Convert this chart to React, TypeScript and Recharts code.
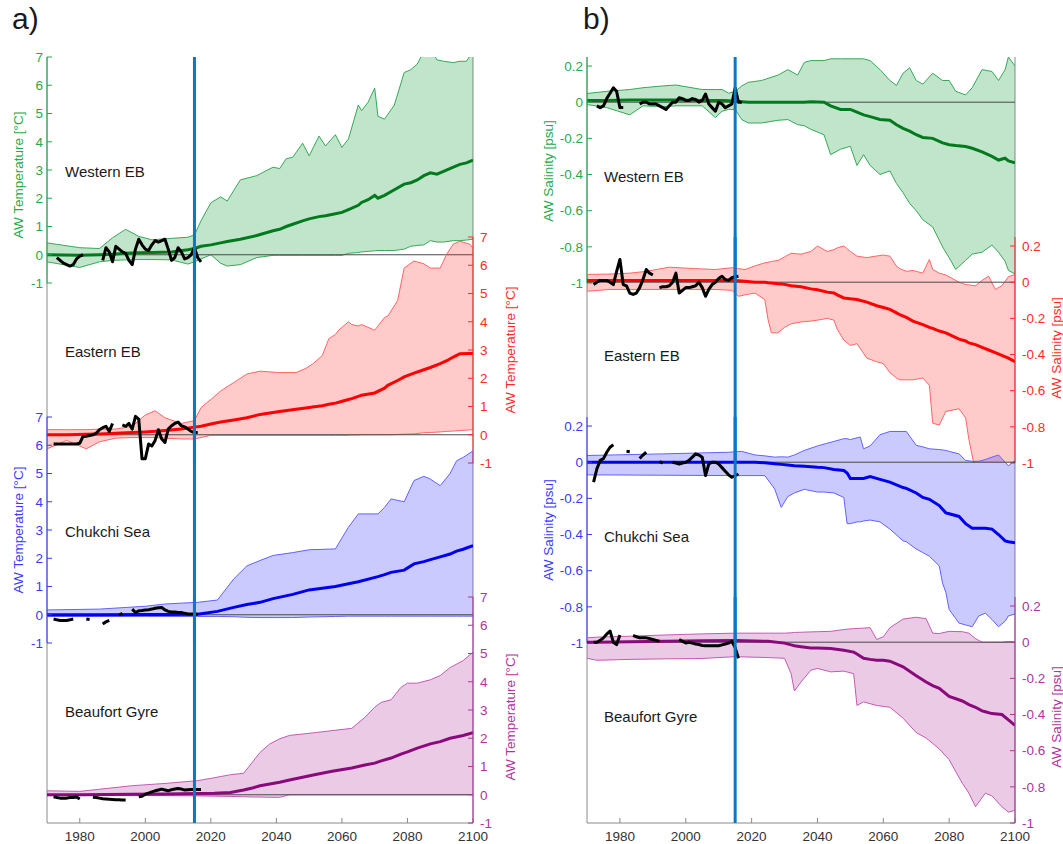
import React from "react";
import { Area, ComposedChart, Line, ReferenceLine, XAxis, YAxis } from "recharts";

const FONT = '"Liberation Sans", Arial, Helvetica, sans-serif';

const YEAR_TICKS = [1980, 2000, 2020, 2040, 2060, 2080, 2100];
const TOP_TICKS = [1980, 2000, 2020, 2040, 2060, 2080];
const TEMP_TICKS = [-1, 0, 1, 2, 3, 4, 5, 6, 7];
const SAL_TICKS = [-1, -0.8, -0.6, -0.4, -0.2, 0, 0.2];
const SCENARIO_START = 2015;
const REGIONS = ["Western EB", "Eastern EB", "Chukchi Sea", "Beaufort Gyre"];

// ---------- a) AW temperature ----------
// Western EB
const aWebYears = [1970, 1980, 1986, 1990, 1994, 1998, 2002, 2008, 2013, 2015, 2017, 2020, 2023, 2025, 2029, 2034, 2039, 2041, 2043, 2045, 2048, 2050, 2053, 2055, 2058, 2060, 2062, 2065, 2066, 2068, 2070, 2071, 2073, 2076, 2079, 2081, 2083, 2085, 2087, 2089, 2091, 2094, 2096, 2098, 2100];
const aWebHi = [0.42, 0.25, 0.22, 0.6, 0.9, 0.65, 0.53, 0.58, 0.62, 0.7, 1.2, 1.84, 2.05, 1.9, 2.65, 2.8, 3.1, 3.05, 3.4, 3.45, 3.95, 3.5, 4.2, 3.85, 4.25, 3.8, 4.1, 5.3, 5.1, 5.4, 5.9, 4.9, 4.8, 5.3, 6.45, 6.55, 6.75, 7.2, 7.3, 6.9, 6.85, 6.8, 6.85, 6.85, 7.2];
const aWebLo = [-0.25, -0.45, -0.25, -0.2, -0.18, -0.17, -0.17, -0.18, -0.33, -0.25, -0.15, 0, -0.3, -0.4, -0.35, -0.1, -0.02, -0.02, -0.02, -0.02, -0.02, -0.02, -0.02, -0.02, -0.02, -0.02, 0.05, 0.08, 0.1, 0.12, 0.14, 0.15, 0.15, 0.15, 0.2, 0.3, 0.33, 0.35, 0.5, 0.45, 0.45, 0.5, 0.5, 0.52, 0.55];
const aWebMean = [0, -0.02, 0, 0.02, 0.05, 0.07, 0.08, 0.1, 0.18, 0.22, 0.3, 0.35, 0.42, 0.47, 0.55, 0.68, 0.85, 0.9, 1.0, 1.08, 1.2, 1.27, 1.35, 1.38, 1.45, 1.5, 1.6, 1.75, 1.85, 1.95, 2.1, 2.0, 2.1, 2.3, 2.5, 2.55, 2.65, 2.8, 2.9, 2.85, 2.95, 3.1, 3.2, 3.25, 3.35];
const aWebObsStart = 1973;
const aWebObs = [-0.1, -0.2, -0.3, -0.35, -0.4, -0.35, -0.15, -0.05, 0, null, null, null, null, null, -0.2, 0.25, 0.1, -0.25, 0.3, 0.2, 0.1, 0.05, -0.2, -0.35, 0.2, 0.55, 0.35, 0.2, 0.15, 0.35, 0.5, 0.45, 0.5, 0.55, 0.2, -0.2, -0.1, 0.25, 0.1, -0.15, -0.1, 0, 0.25, -0.1, -0.25];

// Eastern EB
const aEebYears = [1970, 1976, 1982, 1986, 1991, 1996, 2000, 2003, 2006, 2011, 2015, 2017, 2020, 2023, 2027, 2031, 2035, 2041, 2046, 2049, 2051, 2054, 2056, 2058, 2059, 2062, 2063, 2065, 2066, 2070, 2073, 2074, 2077, 2079, 2082, 2085, 2087, 2090, 2092, 2094, 2096, 2099, 2100];
const aEebHi = [0.18, 0.18, 0.18, 0.2, 0.2, 0.3, 0.7, 0.85, 0.6, 0.4, 0.5, 0.96, 1.25, 1.55, 1.85, 2.15, 2.25, 2.2, 2.2, 2.35, 2.5, 2.8, 3.4, 3.55, 3.7, 4.0, 3.9, 3.85, 3.9, 3.7, 4.15, 4.2, 4.75, 5.9, 6.15, 6.05, 5.9, 5.9, 6.4, 6.75, 6.85, 6.75, 6.6];
const aEebLo = [-0.5, -0.2, -0.5, -0.25, -0.12, -0.1, -0.1, -0.1, -0.12, -0.15, -0.15, -0.1, -0.02, -0.02, -0.02, -0.02, -0.02, -0.02, -0.02, -0.02, -0.02, -0.02, -0.02, -0.02, -0.02, -0.02, -0.01, -0.01, 0, 0, 0, 0, 0.01, 0.02, 0.03, 0.07, 0.08, 0.1, 0.12, 0.13, 0.15, 0.17, 0.18];
const aEebMean = [0, 0, 0.02, 0.03, 0.05, 0.08, 0.1, 0.12, 0.15, 0.2, 0.27, 0.3, 0.38, 0.45, 0.52, 0.6, 0.72, 0.82, 0.9, 0.95, 0.98, 1.03, 1.08, 1.12, 1.15, 1.25, 1.28, 1.36, 1.4, 1.48, 1.65, 1.75, 1.92, 2.05, 2.18, 2.3, 2.38, 2.52, 2.62, 2.75, 2.87, 2.88, 2.88];
const aEebObsStart = 1972;
const aEebObs = [-0.33, -0.33, -0.33, -0.33, -0.33, -0.33, -0.33, -0.33, -0.3, -0.06, -0.05, -0.03, 0, 0.05, 0.18, 0.25, 0.3, 0.12, 0.4, null, null, 0.35, 0.3, 0.4, 0.2, 0.65, 0.55, -0.85, -0.85, -0.33, -0.4, -0.2, 0.18, -0.15, -0.27, 0.2, 0.32, 0.4, 0.45, 0.32, 0.28, 0.2, 0.12, 0.08, 0.08];

// Chukchi Sea
const aCsYears = [1970, 1986, 2000, 2006, 2016, 2022, 2027, 2031, 2035, 2039, 2045, 2050, 2058, 2062, 2065, 2071, 2073, 2075, 2079, 2082, 2085, 2087, 2090, 2093, 2095, 2097, 2100];
const aCsHi = [0.17, 0.2, 0.3, 0.38, 0.44, 0.52, 1.27, 1.73, 1.92, 2.1, 2.2, 2.3, 2.33, 3.1, 3.57, 3.57, 3.8, 4.1, 4.0, 4.75, 4.9, 4.8, 4.57, 5.0, 5.45, 5.57, 5.8];
const aCsLo = [-0.06, -0.06, -0.06, -0.06, -0.06, -0.06, -0.07, -0.09, -0.1, -0.1, -0.1, -0.08, -0.06, -0.05, -0.05, -0.05, -0.05, -0.05, -0.05, -0.05, -0.05, -0.05, -0.05, -0.05, -0.05, -0.05, -0.05];
const aCsMean = [0, 0, 0.01, 0.01, 0.02, 0.12, 0.26, 0.36, 0.44, 0.57, 0.72, 0.88, 1.0, 1.1, 1.17, 1.35, 1.42, 1.5, 1.58, 1.8, 1.88, 1.95, 2.05, 2.15, 2.25, 2.32, 2.45];
const aCsObsStart = 1972;
const aCsObs = [-0.15, -0.18, -0.2, -0.2, -0.2, -0.18, -0.15, null, null, null, -0.15, -0.17, null, null, null, -0.33, -0.25, -0.2, null, null, -0.02, 0.05, null, null, 0.2, 0.08, 0.14, 0.15, 0.17, 0.18, 0.2, 0.23, 0.25, 0.26, 0.17, 0.12, 0.1, 0.1, 0.08, 0.08, 0.05, 0.03, 0.03, 0.03, 0.03];

// Beaufort Gyre
const aBgYears = [1970, 1980, 1996, 2006, 2016, 2021, 2026, 2030, 2033, 2035, 2038, 2041, 2044, 2052, 2057, 2063, 2067, 2070, 2072, 2075, 2078, 2080, 2083, 2087, 2090, 2093, 2097, 2100];
const aBgHi = [0.14, 0.12, 0.32, 0.4, 0.5, 0.6, 0.71, 0.76, 1.2, 1.5, 1.8, 1.98, 2.1, 2.2, 2.27, 2.35, 2.74, 3.1, 3.27, 3.36, 3.8, 3.95, 3.95, 4.07, 4.22, 4.5, 4.75, 5.05];
const aBgLo = [-0.03, -0.03, -0.03, -0.03, -0.04, -0.05, -0.06, -0.07, -0.08, -0.08, -0.09, -0.09, 0, 0, 0, 0, 0, 0, 0, 0, 0, 0, 0, 0, 0, 0, 0, 0];
const aBgMean = [0, 0, 0.02, 0.03, 0.04, 0.05, 0.08, 0.17, 0.25, 0.32, 0.38, 0.44, 0.52, 0.72, 0.83, 0.95, 1.05, 1.12, 1.2, 1.3, 1.44, 1.52, 1.65, 1.8, 1.88, 2.0, 2.1, 2.2];
const aBgObsStart = 1972;
const aBgObs = [-0.07, -0.1, -0.12, -0.12, -0.12, -0.1, -0.1, -0.08, -0.15, null, null, null, -0.09, -0.1, -0.12, -0.14, -0.15, -0.16, -0.17, -0.18, -0.18, -0.19, -0.19, null, null, null, -0.07, -0.05, 0.02, 0.06, 0.1, 0.14, 0.17, 0.2, 0.17, 0.14, 0.18, 0.2, 0.22, 0.2, 0.17, 0.18, 0.19, 0.19, 0.19, 0.19];

// ---------- b) AW salinity ----------
// Western EB
const bWebYears = [1970, 1976, 1983, 1987, 1993, 1997, 2005, 2009, 2011, 2013, 2015, 2017, 2019, 2023, 2028, 2031, 2034, 2036, 2038, 2042, 2044, 2047, 2050, 2052, 2054, 2056, 2059, 2062, 2064, 2066, 2068, 2070, 2072, 2075, 2078, 2080, 2082, 2085, 2087, 2090, 2093, 2095, 2097, 2098, 2100];
const bWebHi = [0.048, 0.06, 0.07, 0.08, 0.09, 0.095, 0.07, 0.07, 0.07, 0.05, 0.06, 0.09, 0.11, 0.12, 0.15, 0.18, 0.15, 0.22, 0.23, 0.23, 0.24, 0.24, 0.24, 0.24, 0.24, 0.23, 0.18, 0.12, 0.093, 0.16, 0.19, 0.12, 0.1, 0.16, 0.12, 0.12, 0.06, 0.04, 0.08, 0.18, 0.17, 0.12, 0.18, 0.25, 0.2];
const bWebLo = [-0.013, -0.03, -0.07, -0.02, -0.025, -0.02, -0.02, -0.085, -0.05, -0.04, -0.04, -0.096, -0.115, -0.115, -0.1, -0.096, -0.124, -0.13, -0.15, -0.18, -0.29, -0.26, -0.244, -0.35, -0.29, -0.35, -0.4, -0.38, -0.45, -0.5, -0.56, -0.6, -0.65, -0.69, -0.8, -0.86, -0.925, -0.875, -0.84, -0.83, -0.79, -0.83, -0.88, -0.93, -0.95];
const bWebMean = [0.01, 0.01, 0.012, 0.012, 0.012, 0.012, 0.01, 0.01, 0.01, 0.008, 0.005, 0.003, 0, 0, 0, 0, 0, 0, 0.003, 0, -0.02, -0.04, -0.04, -0.055, -0.07, -0.08, -0.096, -0.1, -0.125, -0.145, -0.16, -0.18, -0.195, -0.2, -0.225, -0.235, -0.24, -0.245, -0.255, -0.275, -0.3, -0.32, -0.31, -0.325, -0.335];
const bWebObsStart = 1973;
const bWebObs = [-0.02, -0.03, -0.02, 0.02, 0.05, 0.08, 0.06, -0.03, -0.03, null, null, null, null, -0.01, 0, 0, -0.01, -0.01, -0.01, -0.02, -0.03, -0.04, -0.02, 0, 0, 0.025, 0.02, 0.01, 0.01, 0.02, 0.015, 0, 0.01, 0.045, -0.01, -0.03, -0.05, 0, -0.01, -0.03, -0.02, -0.01, 0.08, 0, 0];

// Eastern EB
const bEebYears = [1970, 1977, 1983, 1988, 1995, 2003, 2009, 2014, 2016, 2018, 2021, 2024, 2025, 2026, 2028, 2030, 2032, 2035, 2038, 2040, 2043, 2045, 2046, 2048, 2050, 2052, 2055, 2058, 2060, 2062, 2064, 2065, 2067, 2069, 2072, 2074, 2075, 2077, 2079, 2083, 2085, 2086, 2088, 2090, 2092, 2094, 2096, 2098, 2100];
const bEebHi = [0.043, 0.045, 0.05, 0.06, 0.083, 0.075, 0.07, 0.08, 0.075, 0.07, 0.09, 0.107, 0.11, 0.115, 0.12, 0.14, 0.16, 0.155, 0.17, 0.2, 0.17, 0.18, 0.19, 0.2, 0.17, 0.144, 0.136, 0.145, 0.15, 0.144, 0.089, 0.075, 0.06, 0.065, 0.05, 0.126, 0.07, 0.05, 0.04, 0.0, -0.013, -0.015, -0.02, 0.01, 0.033, -0.04, -0.02, 0.03, 0.043];
const bEebLo = [-0.05, -0.04, -0.04, -0.04, -0.04, -0.04, -0.04, -0.045, -0.078, -0.07, -0.06, -0.096, -0.207, -0.28, -0.28, -0.25, -0.23, -0.22, -0.215, -0.21, -0.2, -0.21, -0.26, -0.32, -0.35, -0.34, -0.42, -0.44, -0.45, -0.5, -0.53, -0.54, -0.54, -0.54, -0.53, -0.57, -0.78, -0.79, -0.715, -0.7, -0.75, -0.87, -1.05, -1.05, -1.05, -1.05, -1.05, -1.05, -1.05];
const bEebMean = [0.01, 0.01, 0.01, 0.01, 0.01, 0.01, 0.01, 0.01, 0.008, 0.005, 0, 0, -0.003, -0.005, -0.008, -0.012, -0.02, -0.025, -0.037, -0.042, -0.055, -0.06, -0.07, -0.087, -0.092, -0.096, -0.11, -0.13, -0.14, -0.15, -0.17, -0.18, -0.195, -0.215, -0.235, -0.25, -0.255, -0.27, -0.28, -0.315, -0.325, -0.336, -0.345, -0.36, -0.375, -0.39, -0.405, -0.42, -0.44];
const bEebObsStart = 1972;
const bEebObs = [-0.013, 0, 0.01, 0.01, 0.01, 0, -0.013, 0.06, 0.126, -0.013, -0.02, -0.06, -0.068, -0.06, -0.03, 0.015, 0.07, 0.05, 0.04, null, -0.03, -0.025, -0.025, -0.02, 0, 0.05, -0.06, -0.045, -0.03, -0.03, -0.025, -0.02, 0, -0.03, -0.078, -0.04, -0.013, 0, 0.02, 0.033, 0.015, 0.01, 0.025, 0.03, 0.033];

// Chukchi Sea
const bCsYears = [1970, 1993, 2013, 2017, 2021, 2024, 2027, 2029, 2031, 2033, 2036, 2040, 2042, 2045, 2048, 2049, 2050, 2052, 2053, 2054, 2056, 2059, 2062, 2066, 2067, 2070, 2072, 2074, 2077, 2078, 2079, 2080, 2083, 2085, 2087, 2089, 2091, 2093, 2095, 2097, 2098, 2100];
const bCsHi = [0.037, 0.046, 0.055, 0.06, 0.04, 0.035, 0.028, 0.03, 0.028, 0.04, 0.065, 0.09, 0.1, 0.115, 0.13, 0.13, 0.125, 0.135, 0.139, 0.074, 0.09, 0.152, 0.17, 0.17, 0.17, 0.093, 0.085, 0.074, 0.07, 0.068, 0.065, 0.06, 0.046, 0.01, 0.005, 0.005, 0.015, 0.028, 0.04, 0.0, -0.02, 0.01];
const bCsLo = [-0.07, -0.072, -0.074, -0.074, -0.074, -0.074, -0.148, -0.25, -0.19, -0.17, -0.15, -0.165, -0.165, -0.17, -0.195, -0.34, -0.34, -0.33, -0.33, -0.325, -0.32, -0.33, -0.37, -0.435, -0.44, -0.48, -0.5, -0.52, -0.574, -0.67, -0.72, -0.815, -0.89, -0.9, -0.91, -0.85, -0.835, -0.87, -0.91, -0.88, -0.85, -0.84];
const bCsMean = [0, 0, 0, 0, 0, -0.003, -0.008, -0.012, -0.016, -0.02, -0.022, -0.028, -0.03, -0.04, -0.046, -0.06, -0.09, -0.09, -0.09, -0.09, -0.08, -0.095, -0.11, -0.14, -0.145, -0.17, -0.195, -0.205, -0.24, -0.26, -0.28, -0.285, -0.3, -0.34, -0.365, -0.365, -0.365, -0.37, -0.4, -0.435, -0.44, -0.445];
const bCsObsStart = 1972;
const bCsObs = [-0.11, -0.037, 0.01, 0.02, 0.055, 0.083, 0.096, null, null, null, 0.06, 0.058, null, null, 0.02, 0.04, 0.055, null, null, null, 0.004, -0.005, null, null, 0, -0.005, -0.01, -0.005, 0, 0.01, 0.028, 0.046, 0.04, 0.028, -0.074, -0.01, 0, 0, -0.01, -0.03, -0.05, -0.07, -0.083, -0.075, -0.065];

// Beaufort Gyre
const bBgYears = [1970, 1973, 1983, 1994, 2005, 2015, 2025, 2030, 2032, 2033, 2035, 2038, 2040, 2044, 2048, 2051, 2052, 2054, 2056, 2058, 2060, 2062, 2066, 2070, 2073, 2075, 2077, 2080, 2084, 2086, 2088, 2090, 2091, 2093, 2096, 2098, 2100];
const bBgHi = [0.024, 0.028, 0.033, 0.04, 0.046, 0.05, 0.05, 0.05, 0.052, 0.054, 0.055, 0.057, 0.058, 0.06, 0.07, 0.075, 0.076, 0.078, 0.08, 0.015, 0.03, 0.08, 0.128, 0.138, 0.13, 0.05, 0.048, 0.06, 0.058, 0.05, 0.02, 0, 0, 0, 0, 0.004, 0];
const bBgLo = [-0.089, -0.1, -0.095, -0.092, -0.09, -0.08, -0.085, -0.089, -0.174, -0.27, -0.22, -0.155, -0.145, -0.164, -0.16, -0.174, -0.35, -0.33, -0.34, -0.35, -0.355, -0.36, -0.42, -0.5, -0.53, -0.56, -0.59, -0.65, -0.78, -0.835, -0.91, -0.86, -0.835, -0.85, -0.91, -0.94, -0.93];
const bBgMean = [0, 0, 0.003, 0.005, 0.008, 0.01, 0.005, -0.005, -0.015, -0.02, -0.025, -0.032, -0.032, -0.035, -0.045, -0.055, -0.065, -0.089, -0.095, -0.1, -0.1, -0.105, -0.136, -0.185, -0.22, -0.24, -0.255, -0.3, -0.325, -0.345, -0.36, -0.38, -0.385, -0.395, -0.4, -0.43, -0.46];
const bBgObsStart = 1972;
const bBgObs = [0, 0, 0.01, 0.024, 0.045, 0.062, 0, -0.013, 0.04, null, null, null, 0.038, 0.03, 0.025, 0.024, 0.024, 0.02, 0.015, 0.01, 0.005, null, null, null, null, null, 0.015, 0.005, -0.004, 0, -0.005, -0.01, -0.013, -0.018, -0.02, -0.02, -0.02, -0.02, -0.02, -0.015, -0.01, -0.005, 0.005, -0.03, -0.089];

// ---------- layout / style ----------
const PLOT_TOP = 57;
const PLOT_H = 766;
const BAND = 226;
const PAD = 10;
const BAND_TOPS = [57, 237, 417, 597];

const PANEL_A = { left: 0, width: 530, L: 47, R: 57 };
const PANEL_B = { left: 530, width: 533, L: 57, R: 48 };

const GREEN = { axis: "#26a94a", edge: "#35a955", fill: "#19a040", fillOpacity: 0.27, mean: "#007a1c" };
const RED = { axis: "#ff2a2a", edge: "#ff6565", fill: "#ff1a1a", fillOpacity: 0.23, mean: "#ff0000" };
const BLUE = { axis: "#3a3aff", edge: "#6262ff", fill: "#1a1aff", fillOpacity: 0.23, mean: "#0000f0" };
const PURPLE = { axis: "#b0339e", edge: "#c45ab6", fill: "#b02a9c", fillOpacity: 0.25, mean: "#8a0a7c" };
const COLORS = [GREEN, RED, BLUE, PURPLE];
const SIDES = ["left", "right", "left", "right"];

const bandRows = (years, lo, hi, mean) => years.map((year, i) => ({ year, band: [lo[i], hi[i]], mean: mean[i] }));
const obsRows = (start, vals) => vals.map((v, i) => ({ year: start + i, v }));

const TEMP = [
  { rows: bandRows(aWebYears, aWebLo, aWebHi, aWebMean), obs: obsRows(aWebObsStart, aWebObs) },
  { rows: bandRows(aEebYears, aEebLo, aEebHi, aEebMean), obs: obsRows(aEebObsStart, aEebObs) },
  { rows: bandRows(aCsYears, aCsLo, aCsHi, aCsMean), obs: obsRows(aCsObsStart, aCsObs) },
  { rows: bandRows(aBgYears, aBgLo, aBgHi, aBgMean), obs: obsRows(aBgObsStart, aBgObs) },
];
const SAL = [
  { rows: bandRows(bWebYears, bWebLo, bWebHi, bWebMean), obs: obsRows(bWebObsStart, bWebObs) },
  { rows: bandRows(bEebYears, bEebLo, bEebHi, bEebMean), obs: obsRows(bEebObsStart, bEebObs) },
  { rows: bandRows(bCsYears, bCsLo, bCsHi, bCsMean), obs: obsRows(bCsObsStart, bCsObs) },
  { rows: bandRows(bBgYears, bBgLo, bBgHi, bBgMean), obs: obsRows(bBgObsStart, bBgObs) },
];

function Frame({ panel, rows }) {
  return (
    <div style={{ position: "absolute", left: panel.left, top: PLOT_TOP - PAD }}>
      <ComposedChart width={panel.width} height={PAD + PLOT_H + 30} data={rows} margin={{ top: PAD, left: 0, right: 0, bottom: 0 }}>
        <XAxis xAxisId="b" dataKey="year" type="number" domain={[1970, 2100]} ticks={YEAR_TICKS} interval={0}
          allowDataOverflow height={30} stroke="#8a8a8a" tick={{ fill: "#333", fontSize: 13.5 }} tickSize={-5} tickMargin={13} />
        <XAxis xAxisId="t" orientation="top" dataKey="year" type="number" domain={[1970, 2100]} ticks={TOP_TICKS}
          interval={0} allowDataOverflow height={0} tick={false} stroke="#8a8a8a" tickSize={-5} />
        <YAxis yAxisId="l" width={panel.L} domain={[0, 1]} tick={false} tickLine={false} stroke="#8a8a8a" />
        <YAxis yAxisId="r" orientation="right" width={panel.R} domain={[0, 1]} tick={false} tickLine={false} stroke="#8a8a8a" />
      </ComposedChart>
    </div>
  );
}

function Sub({ panel, idx, series, domain, ticks }) {
  const c = COLORS[idx];
  const left = SIDES[idx] === "left";
  return (
    <div style={{ position: "absolute", left: panel.left, top: BAND_TOPS[idx] - PAD }}>
      <ComposedChart width={panel.width} height={BAND + 2 * PAD} data={series.rows}
        margin={{ top: PAD, bottom: PAD, left: left ? 0 : panel.L, right: left ? panel.R : 0 }}>
        <XAxis dataKey="year" type="number" domain={[1970, 2100]} hide allowDataOverflow />
        <YAxis orientation={left ? "left" : "right"} width={left ? panel.L : panel.R} domain={domain} ticks={ticks}
          interval={0} allowDataOverflow axisLine={{ stroke: c.axis }} tickLine={{ stroke: c.axis }}
          tick={{ fill: c.axis, fontSize: 13.5 }} tickSize={-5} tickMargin={left ? 9 : 12} />
        <Area dataKey="band" type="linear" stroke={c.edge} strokeWidth={1} fill={c.fill} fillOpacity={c.fillOpacity}
          dot={false} activeDot={false} isAnimationActive={false} />
        <ReferenceLine y={0} stroke="#4a4a4a" strokeWidth={1} />
        <Line dataKey="mean" type="linear" stroke={c.mean} strokeWidth={3} dot={false} activeDot={false} isAnimationActive={false} />
        <Line data={series.obs} dataKey="v" type="linear" stroke="#000" strokeWidth={3} strokeLinejoin="round"
          dot={false} activeDot={false} connectNulls={false} isAnimationActive={false} />
        <ReferenceLine x={SCENARIO_START} stroke="#0a78c2" strokeWidth={3} />
      </ComposedChart>
    </div>
  );
}

const txt = { position: "absolute", whiteSpace: "nowrap", color: "#1a1a1a" };
const rot = (x, y, color, label) => (
  <div key={`${x}-${y}`} style={{ ...txt, left: x, top: y, color, fontSize: 13.5, transform: "translate(-50%, -50%) rotate(-90deg)" }}>
    {label}
  </div>
);

export default function App() {
  const aTitleY = [175, 350, 530, 717];
  const bTitleY = [171, 348, 530, 717];
  const aNameY = [171, 351, 531, 711];
  const bNameY = [176, 355, 536, 716];
  return (
    <div style={{ position: "absolute", left: 0, top: 0, width: 1063, height: 844, background: "#fff", fontFamily: FONT, overflow: "hidden" }}>
      <Frame panel={PANEL_A} rows={TEMP[0].rows} />
      <Frame panel={PANEL_B} rows={SAL[0].rows} />
      {TEMP.map((s, i) => (
        <Sub key={`t${i}`} panel={PANEL_A} idx={i} series={s} domain={[-1, 7]} ticks={TEMP_TICKS} />
      ))}
      {SAL.map((s, i) => (
        <Sub key={`s${i}`} panel={PANEL_B} idx={i} series={s} domain={[-1, 0.25]} ticks={SAL_TICKS} />
      ))}

      <div style={{ ...txt, left: 12, top: 2, fontSize: 30 }}>a)</div>
      <div style={{ ...txt, left: 583, top: 2, fontSize: 30 }}>b)</div>

      {REGIONS.map((r, i) => (
        <div key={`an${i}`} style={{ ...txt, left: 65, top: aNameY[i], fontSize: 15, transform: "translateY(-50%)" }}>{r}</div>
      ))}
      {REGIONS.map((r, i) => (
        <div key={`bn${i}`} style={{ ...txt, left: 604, top: bNameY[i], fontSize: 15, transform: "translateY(-50%)" }}>{r}</div>
      ))}
      {COLORS.map((c, i) => rot(SIDES[i] === "left" ? 18 : 510, aTitleY[i], c.axis, "AW Temperature [°C]"))}
      {COLORS.map((c, i) => rot(SIDES[i] === "left" ? 548 : 1056, bTitleY[i], c.axis, "AW Salinity [psu]"))}
    </div>
  );
}
